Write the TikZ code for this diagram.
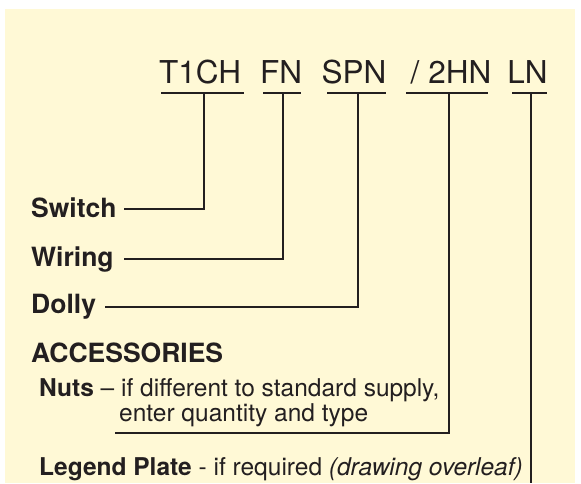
\documentclass[tikz,border=0pt]{standalone}
\usepackage{fontspec}
\setmainfont{TeX Gyre Heros}
\definecolor{bg}{HTML}{FFF9D6}
\definecolor{ink}{HTML}{231F20}
\begin{document}
\begin{tikzpicture}[x=1pt,y=-1pt,
  codetxt/.style={font=\fontsize{31.5}{37}\selectfont, text=ink, anchor=base, inner sep=0pt},
  lbl/.style={font=\fontsize{26.5}{30}\selectfont\bfseries, text=ink, anchor=base west, inner sep=0pt},
  itemtxt/.style={font=\fontsize{24.5}{28}\selectfont, text=ink, anchor=base west, inner sep=0pt},
  conn/.style={draw=ink, line width=2.3pt}]
\useasboundingbox (0,0) rectangle (581,483);
\fill[bg] (5,9) rectangle (575,483);
% code parts
\node[codetxt] (t1) at (200,83) {T1CH};
\node[codetxt] (fn) at (281,83) {FN};
\node[codetxt] (spn) at (354,83) {SPN};
\node[codetxt] (hn) at (451,83) {/ 2HN};
\node[codetxt] (ln) at (527.5,83) {LN};
% underline coordinates
\coordinate (t1l) at (161,93); \coordinate (t1r) at (244,93); \coordinate (t1m) at (204,93);
\coordinate (fnl) at (263,93); \coordinate (fnr) at (301,93); \coordinate (fnm) at (283,93);
\coordinate (spl) at (327,93); \coordinate (spr) at (386,93); \coordinate (spm) at (358,93);
\coordinate (hnl) at (406,93); \coordinate (hnr) at (488,93); \coordinate (hnm) at (449,93);
\coordinate (lnl) at (512,93); \coordinate (lnr) at (547,93); \coordinate (lnm) at (531,93);
% labels
\node[lbl] (sw) at (31,217) {Switch};
\node[lbl] (wi) at (31,266) {Wiring};
\node[lbl] (do) at (31,313) {Dolly};
\node[lbl] (acc) at (31,362) {ACCESSORIES};
\node[itemtxt] (nuts) at (39,396) {\textbf{Nuts} – if different to standard supply,};
\node[itemtxt] (nuts2) at (119,421) {enter quantity and type};
\node[itemtxt] (leg) at (39,475) {\textbf{Legend Plate} - if required \textit{(drawing overleaf)}};
% label line ends
\coordinate (swe) at (124,209);
\coordinate (wie) at (124,259);
\coordinate (doe) at (105,307);
\coordinate (nue) at (115,433);
\coordinate (lne) at (531,483);
% connectors
\draw[conn] (t1l) -- (t1r);
\draw[conn] (fnl) -- (fnr);
\draw[conn] (spl) -- (spr);
\draw[conn] (hnl) -- (hnr);
\draw[conn] (lnl) -- (lnr);
\draw[conn] (t1m) |- (swe);
\draw[conn] (fnm) |- (wie);
\draw[conn] (spm) |- (doe);
\draw[conn] (hnm) |- (nue);
\draw[conn] (lnm) -- (lne);
\end{tikzpicture}
\end{document}
